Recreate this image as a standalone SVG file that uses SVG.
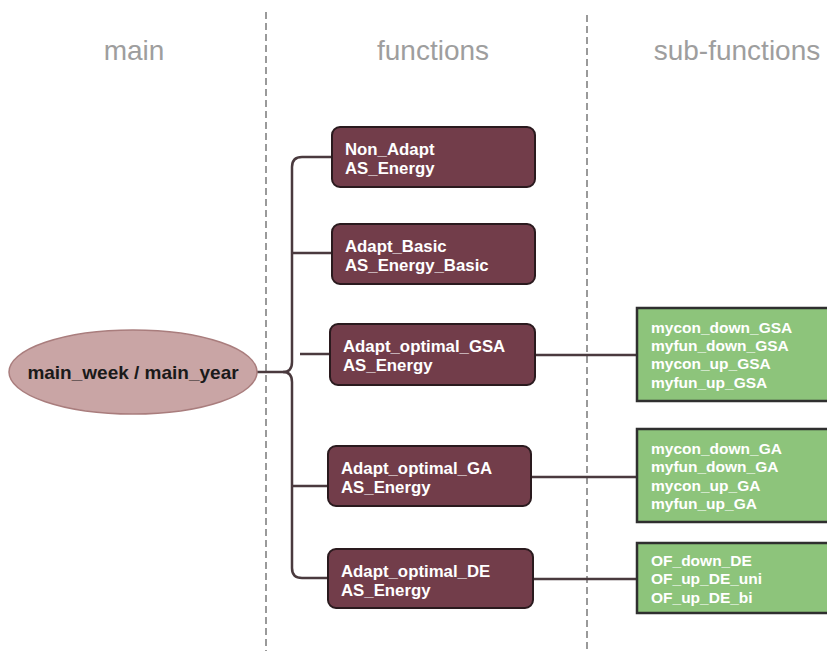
<svg xmlns="http://www.w3.org/2000/svg" width="827" height="651" viewBox="0 0 827 651">
<style>
.hdr{font-family:"Liberation Sans",Arial,sans-serif;font-size:28px;fill:#9e9e9e;text-anchor:middle}
.dash{stroke:#7a7a7a;stroke-width:1.5;stroke-dasharray:7 4;fill:none}
.fn rect{fill:#723d4a;stroke:#2a1a1e;stroke-width:2}
.fn text{font-family:"Liberation Sans",Arial,sans-serif;font-size:16.8px;font-weight:bold;fill:#ffffff}
.sf rect{fill:#8dc47b;stroke:#2f2f2f;stroke-width:2.5}
.sf text{font-family:"Liberation Sans",Arial,sans-serif;font-size:15.5px;font-weight:bold;fill:#ffffff}
.con path{stroke:#4a3a3e;stroke-width:2.5;fill:none}
</style>
<rect width="827" height="651" fill="#ffffff"/>
<g id="headers">
<text class="hdr" x="134" y="60">main</text>
<text class="hdr" x="433" y="60">functions</text>
<text class="hdr" x="737" y="60">sub-functions</text>
<line class="dash" x1="266" y1="12" x2="266" y2="651"/>
<line class="dash" x1="587" y1="15" x2="587" y2="651"/>
</g>
<g id="connectors" class="con">
<path d="M257,372 H283 Q292,372 292,362 V167 Q292,157 302,157 H332"/>
<path d="M283,372 Q292,372 292,382 V568 Q292,578 302,578 H328"/>
<path d="M292,253 H332"/>
<path d="M300,354 H330"/>
<path d="M292,486 H328"/>
<path d="M535,355 H637"/>
<path d="M531,477 H637"/>
<path d="M533,579 H637"/>
</g>
<g id="main">
<ellipse cx="133" cy="372" rx="124" ry="42" fill="#c9a5a5" stroke="#a97d7d" stroke-width="1.5"/>
<text x="133" y="379" text-anchor="middle" font-family="Liberation Sans, Arial, sans-serif" font-size="19" font-weight="bold" fill="#1a1a1a">main_week / main_year</text>
</g>
<g id="fn_non_adapt" class="fn">
<rect x="332" y="127" width="203" height="60" rx="8"/>
<text x="345" y="155">Non_Adapt</text>
<text x="345" y="174">AS_Energy</text>
</g>
<g id="fn_adapt_basic" class="fn">
<rect x="332" y="224" width="203" height="60" rx="8"/>
<text x="345" y="252">Adapt_Basic</text>
<text x="345" y="271">AS_Energy_Basic</text>
</g>
<g id="fn_adapt_gsa" class="fn">
<rect x="330" y="324" width="205" height="61" rx="8"/>
<text x="343" y="352">Adapt_optimal_GSA</text>
<text x="343" y="371">AS_Energy</text>
</g>
<g id="fn_adapt_ga" class="fn">
<rect x="328" y="446" width="203" height="60" rx="8"/>
<text x="341" y="474">Adapt_optimal_GA</text>
<text x="341" y="493">AS_Energy</text>
</g>
<g id="fn_adapt_de" class="fn">
<rect x="328" y="549" width="205" height="59" rx="8"/>
<text x="341" y="577">Adapt_optimal_DE</text>
<text x="341" y="596">AS_Energy</text>
</g>
<g id="sf_gsa" class="sf">
<rect x="637" y="308" width="200" height="93"/>
<text x="651" y="333">mycon_down_GSA</text>
<text x="651" y="351">myfun_down_GSA</text>
<text x="651" y="369">mycon_up_GSA</text>
<text x="651" y="388">myfun_up_GSA</text>
</g>
<g id="sf_ga" class="sf">
<rect x="637" y="429" width="200" height="93"/>
<text x="651" y="454">mycon_down_GA</text>
<text x="651" y="472">myfun_down_GA</text>
<text x="651" y="491">mycon_up_GA</text>
<text x="651" y="509">myfun_up_GA</text>
</g>
<g id="sf_de" class="sf">
<rect x="637" y="543" width="200" height="70"/>
<text x="651" y="566">OF_down_DE</text>
<text x="651" y="584">OF_up_DE_uni</text>
<text x="651" y="603">OF_up_DE_bi</text>
</g>
</svg>
